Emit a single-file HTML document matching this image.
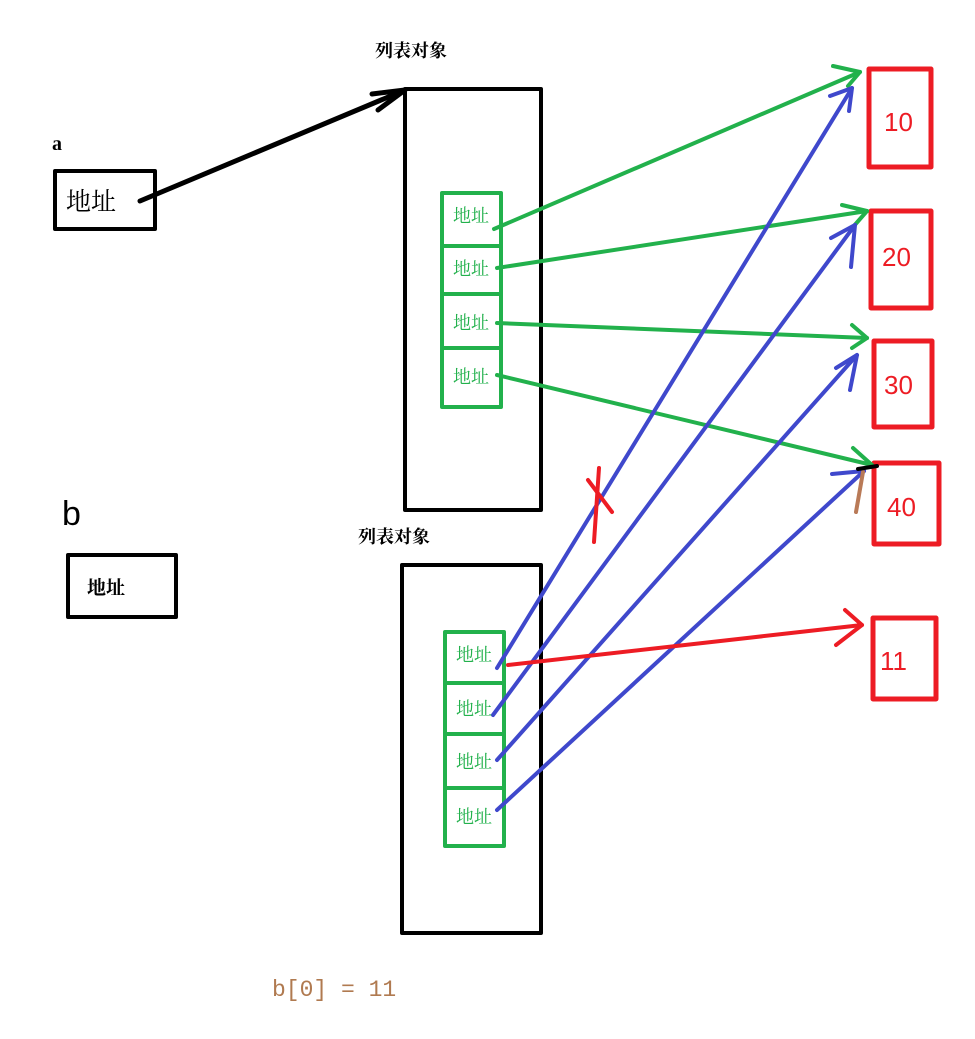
<!DOCTYPE html>
<html><head><meta charset="utf-8"><style>
body{margin:0;background:#fff;width:975px;height:1039px;overflow:hidden}
svg{display:block}
</style></head><body>
<svg width="975" height="1039" viewBox="0 0 975 1039" xmlns="http://www.w3.org/2000/svg" style="font-family:'Liberation Serif','Noto Serif CJK SC',serif">
<g fill="none" stroke-linecap="round" stroke-linejoin="round">
<rect x="405" y="89" width="136" height="421" stroke="#000" stroke-width="4"/>
<rect x="402" y="565" width="139" height="368" stroke="#000" stroke-width="4"/>
<rect x="55" y="171" width="100" height="58" stroke="#000" stroke-width="4"/>
<rect x="68" y="555" width="108" height="62" stroke="#000" stroke-width="4"/>
<g stroke="#22b14c" stroke-width="4">
<rect x="442" y="193" width="59" height="214"/>
<line x1="442" y1="246" x2="501" y2="246"/><line x1="442" y1="294" x2="501" y2="294"/><line x1="442" y1="348" x2="501" y2="348"/>
<rect x="445" y="632" width="59" height="214"/>
<line x1="445" y1="683" x2="504" y2="683"/><line x1="445" y1="734" x2="504" y2="734"/><line x1="445" y1="788" x2="504" y2="788"/>
</g>
<g stroke="#ed1c24" stroke-width="5">
<rect x="869" y="69" width="62" height="98"/>
<rect x="871" y="211" width="60" height="97"/>
<rect x="874" y="341" width="58" height="86"/>
<rect x="874" y="463" width="65" height="81"/>
<rect x="873" y="618" width="63" height="81"/>
</g>
<g stroke="#000" stroke-width="5">
<line x1="140" y1="201" x2="405" y2="90"/>
<polyline points="372,94 405,90 378,110"/>
</g>
<g stroke="#22b14c" stroke-width="4">
<line x1="494" y1="229" x2="860" y2="72"/><polyline points="833,66 860,72 848,86"/>
<line x1="497" y1="268" x2="867" y2="211"/><polyline points="842,205 867,211 853,227"/>
<line x1="497" y1="323" x2="867" y2="338"/><polyline points="852,325 867,338 852,348"/>
<line x1="497" y1="375" x2="872" y2="465"/><polyline points="853,448 872,465"/>
</g>
<g stroke="#3f48cc" stroke-width="4">
<line x1="497" y1="668" x2="852" y2="88"/><polyline points="830,96 852,88 849,111"/>
<line x1="493" y1="715" x2="855" y2="225"/><polyline points="831,238 855,225 851,267"/>
<line x1="497" y1="760" x2="857" y2="355"/><polyline points="836,368 857,355 850,390"/>
<line x1="497" y1="810" x2="864" y2="471"/><polyline points="832,474 864,471"/>
</g>
<g stroke="#ed1c24" stroke-width="4">
<line x1="508" y1="665" x2="862" y2="625"/><polyline points="845,610 862,625 836,645"/>
<line x1="588" y1="480" x2="612" y2="512"/><line x1="599" y1="468" x2="594" y2="542"/>
</g>
<line x1="863" y1="472" x2="856" y2="512" stroke="#b97a57" stroke-width="4"/>
<line x1="858" y1="469" x2="877" y2="466" stroke="#000" stroke-width="4"/>
</g>
<g font-size="18" font-weight="bold" fill="#000">
<text x="375" y="57">列表对象</text>
<text x="358" y="543">列表对象</text>
</g>
<text x="52" y="150" font-size="20" font-weight="bold">a</text>
<text x="62" y="525" font-size="34" fill="#000" style="font-family:'Liberation Sans',sans-serif">b</text>
<text x="66" y="210" font-size="25">地址</text>
<text x="87" y="594" font-size="19" font-weight="bold">地址</text>
<g font-size="18" fill="#22b14c">
<text x="453" y="222">地址</text><text x="453" y="275">地址</text><text x="453" y="329">地址</text><text x="453" y="383">地址</text>
<text x="456" y="661">地址</text><text x="456" y="715">地址</text><text x="456" y="768">地址</text><text x="456" y="823">地址</text>
</g>
<g font-size="26" fill="#ed1c24" style="font-family:'Liberation Sans',sans-serif">
<text x="884" y="131">10</text><text x="882" y="266">20</text><text x="884" y="394">30</text><text x="887" y="516">40</text><text x="880" y="670">11</text>
</g>
<text x="272" y="996" font-size="23" fill="#b07a50" style="font-family:'Liberation Mono',monospace" xml:space="preserve">b[0] = 11</text>
</svg>
</body></html>
